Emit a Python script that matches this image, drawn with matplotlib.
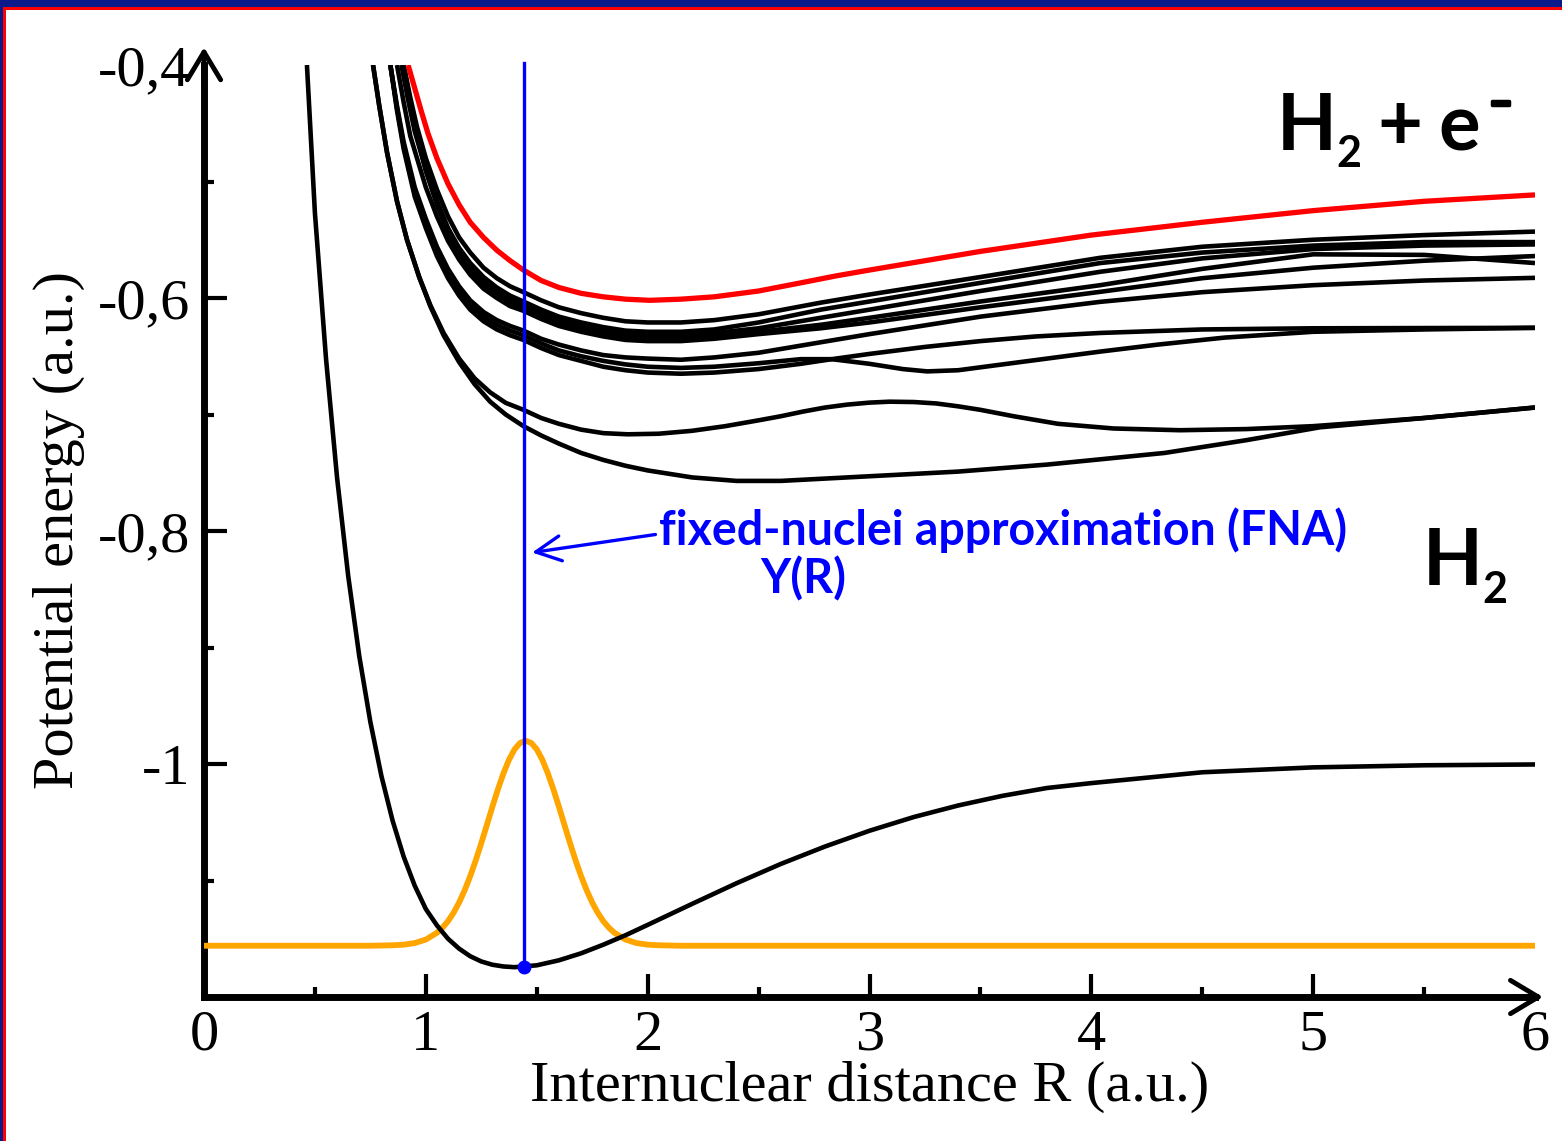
import numpy as np
import matplotlib
matplotlib.use("Agg")
import matplotlib.pyplot as plt
import matplotlib.patheffects as pe
from matplotlib.patches import Rectangle

# ---------------- data ----------------
x_ticks = [0, 1, 2, 3, 4, 5, 6]
x_ticklabels = ["0", "1", "2", "3", "4", "5", "6"]
y_ticks = [-0.4, -0.6, -0.8, -1.0]
y_ticklabels = ["-0,4", "-0,6", "-0,8", "-1"]

# ground state H2
g_R = [0.464, 0.50, 0.55, 0.60, 0.65, 0.70, 0.75, 0.80, 0.85, 0.90, 0.95, 1.00, 1.05, 1.10,
       1.15, 1.20, 1.25, 1.30, 1.35, 1.40, 1.50, 1.60, 1.70, 1.80, 1.90, 2.00, 2.20, 2.40,
       2.60, 2.80, 3.00, 3.20, 3.40, 3.60, 3.80, 4.00, 4.50, 5.00, 5.50, 6.00]
g_E = [-0.400, -0.527, -0.652, -0.7545, -0.8385, -0.9075, -0.964, -1.0105, -1.0485, -1.0795,
       -1.1045, -1.1245, -1.1385, -1.150, -1.1585, -1.165, -1.1695, -1.1723, -1.1738, -1.1744,
       -1.1728, -1.1685, -1.1625, -1.1551, -1.147, -1.1381, -1.1201, -1.1024, -1.0858, -1.0708,
       -1.0573, -1.0455, -1.0356, -1.0273, -1.0206, -1.0164, -1.0071, -1.0029, -1.0011, -1.0004]

# nuclear wave function (orange)
w_R = [0.0, 0.75, 0.85, 0.90, 0.95, 1.00, 1.05, 1.075, 1.10, 1.125, 1.15, 1.175, 1.20, 1.225,
       1.25, 1.275, 1.30, 1.325, 1.35, 1.375, 1.40, 1.425, 1.45, 1.475, 1.50, 1.525, 1.55, 1.575,
       1.60, 1.625, 1.65, 1.675, 1.70, 1.725, 1.75, 1.775, 1.80, 1.825, 1.85, 1.90, 1.95, 2.00,
       2.05, 2.15, 6.0]
w_E = [-1.156, -1.156, -1.1556, -1.1551, -1.1537, -1.1507, -1.1449, -1.1405, -1.1349, -1.1277,
       -1.1189, -1.1084, -1.0963, -1.0827, -1.0679, -1.0524, -1.0367, -1.0217, -1.0080, -0.9963,
       -0.9874, -0.9819, -0.9800, -0.9819, -0.9874, -0.9963, -1.0080, -1.0217, -1.0367, -1.0524,
       -1.0679, -1.0827, -1.0963, -1.1084, -1.1189, -1.1277, -1.1349, -1.1405, -1.1449, -1.1507,
       -1.1537, -1.1551, -1.1556, -1.156, -1.156]

# H2- resonance (red)
red_R = [0.92, 0.95, 0.98, 1.01, 1.05, 1.10, 1.15, 1.20, 1.26, 1.32, 1.38, 1.44, 1.52, 1.60,
         1.70, 1.80, 1.90, 2.01, 2.15, 2.30, 2.50, 2.69, 2.85, 3.00, 3.25, 3.50, 3.75, 4.00,
         4.50, 5.00, 5.50, 6.00]
red_E = [-0.400, -0.420, -0.440, -0.459, -0.480, -0.502, -0.520, -0.535, -0.548, -0.559, -0.568,
         -0.576, -0.585, -0.591, -0.596, -0.599, -0.601, -0.602, -0.601, -0.599, -0.594, -0.587,
         -0.581, -0.576, -0.568, -0.560, -0.553, -0.546, -0.535, -0.525, -0.517, -0.5115]

# excited states of H2 (black)
grid = [1.00, 1.05, 1.10, 1.15, 1.20, 1.26, 1.32, 1.38, 1.44, 1.52, 1.60, 1.70, 1.80, 1.90,
        2.00, 2.15, 2.30, 2.50, 2.78, 3.00, 3.50, 4.04, 4.50, 5.00, 5.50, 6.00]
u1_R = [0.90, 0.93, 0.96] + grid
u1_E = [-0.400, -0.428, -0.453, -0.480, -0.507, -0.530, -0.548, -0.561, -0.574, -0.583, -0.590,
        -0.595, -0.602, -0.608, -0.613, -0.617, -0.620, -0.621, -0.621, -0.619, -0.614, -0.604,
        -0.597, -0.582, -0.5655, -0.556, -0.550, -0.546, -0.543]
u2_R = [0.89, 0.92, 0.95] + grid
u2_E = [-0.400, -0.430, -0.457, -0.490, -0.517, -0.540, -0.557, -0.570, -0.582, -0.591, -0.598,
        -0.603, -0.610, -0.616, -0.621, -0.625, -0.628, -0.629, -0.629, -0.627, -0.621, -0.610,
        -0.603, -0.587, -0.570, -0.561, -0.555, -0.552, -0.552]
u3_R = [0.895, 0.925, 0.955] + grid
u3_E = [-0.400, -0.430, -0.457, -0.489, -0.517, -0.541, -0.559, -0.573, -0.585, -0.594, -0.601,
        -0.606, -0.613, -0.619, -0.624, -0.628, -0.631, -0.632, -0.632, -0.630, -0.626, -0.617,
        -0.610, -0.594, -0.5775, -0.566, -0.558, -0.555, -0.554]
u4_R = [0.90, 0.93, 0.96] + grid
u4_E = [-0.400, -0.432, -0.460, -0.491, -0.520, -0.544, -0.562, -0.576, -0.588, -0.597, -0.604,
        -0.609, -0.616, -0.622, -0.627, -0.631, -0.634, -0.635, -0.635, -0.633, -0.629, -0.623,
        -0.617, -0.603, -0.589, -0.575, -0.5625, -0.563, -0.570]
u5_R = [0.87, 0.90, 0.93] + grid
u5_E = [-0.400, -0.432, -0.461, -0.505, -0.530, -0.551, -0.567, -0.580, -0.592, -0.600, -0.607,
        -0.611, -0.618, -0.624, -0.629, -0.633, -0.636, -0.637, -0.637, -0.635, -0.631, -0.626,
        -0.621, -0.608, -0.5947, -0.583, -0.574, -0.568, -0.564]
u6_R = [0.84, 0.87, 0.90, 0.95] + grid
u6_E = [-0.400, -0.435, -0.466, -0.505, -0.532, -0.556, -0.575, -0.590, -0.602, -0.612, -0.619,
        -0.624, -0.628, -0.635, -0.640, -0.645, -0.649, -0.651, -0.652, -0.653, -0.651, -0.647,
        -0.638, -0.631, -0.616, -0.6033, -0.595, -0.589, -0.585, -0.5827]
ca_R = [0.84, 0.87, 0.90, 0.95, 1.00, 1.05, 1.10, 1.15, 1.20, 1.26, 1.32, 1.38, 1.44, 1.52,
        1.60, 1.70, 1.80, 1.90, 2.00, 2.15, 2.30, 2.50, 2.69, 2.83, 3.00, 3.15, 3.26, 3.40,
        3.60, 3.80, 4.04, 4.30, 4.60, 5.00, 5.50, 6.00]
ca_E = [-0.400, -0.437, -0.469, -0.509, -0.536, -0.560, -0.579, -0.594, -0.606, -0.616, -0.623,
        -0.628, -0.632, -0.639, -0.645, -0.650, -0.654, -0.657, -0.659, -0.660, -0.659, -0.656,
        -0.6525, -0.6525, -0.6565, -0.661, -0.663, -0.662, -0.657, -0.652, -0.646, -0.640,
        -0.634, -0.629, -0.627, -0.6256]
cb_R = [0.84, 0.87, 0.90, 0.95, 1.00, 1.05, 1.10, 1.15, 1.20, 1.26, 1.32, 1.38, 1.44, 1.52,
        1.60, 1.70, 1.80, 1.90, 2.00, 2.15, 2.30, 2.50, 2.69, 2.83, 3.00, 3.25, 3.50, 3.75,
        4.04, 4.50, 5.00, 6.00]
cb_E = [-0.400, -0.439, -0.472, -0.513, -0.540, -0.564, -0.583, -0.598, -0.610, -0.620, -0.627,
        -0.632, -0.636, -0.643, -0.649, -0.654, -0.659, -0.662, -0.664, -0.665, -0.664, -0.661,
        -0.6565, -0.6525, -0.648, -0.642, -0.637, -0.633, -0.630, -0.627, -0.626, -0.6256]
b_R = [0.762, 0.79, 0.825, 0.87, 0.915, 0.97, 1.02, 1.08, 1.15, 1.22, 1.29, 1.36, 1.44, 1.52,
       1.60, 1.70, 1.80, 1.91, 2.05, 2.20, 2.35, 2.50, 2.60, 2.70, 2.80, 2.90, 3.00, 3.09, 3.20,
       3.30, 3.40, 3.50, 3.65, 3.85, 4.10, 4.40, 4.70, 5.00, 5.50, 6.00]
b_E = [-0.400, -0.435, -0.475, -0.517, -0.550, -0.582, -0.606, -0.630, -0.652, -0.669, -0.681,
       -0.690, -0.696, -0.703, -0.708, -0.713, -0.716, -0.717, -0.7165, -0.714, -0.710, -0.705,
       -0.7015, -0.6975, -0.694, -0.6915, -0.6898, -0.689, -0.6893, -0.6905, -0.693, -0.696,
       -0.7015, -0.708, -0.712, -0.7135, -0.7125, -0.710, -0.703, -0.694]
a_R = [0.762, 0.79, 0.825, 0.87, 0.915, 0.97, 1.02, 1.08, 1.15, 1.22, 1.29, 1.36, 1.44, 1.52,
       1.60, 1.70, 1.80, 1.90, 2.00, 2.20, 2.40, 2.60, 2.80, 3.10, 3.40, 3.80, 4.33, 4.70, 5.03,
       5.50, 6.00]
a_E = [-0.400, -0.435, -0.475, -0.517, -0.550, -0.582, -0.607, -0.632, -0.655, -0.674, -0.689,
       -0.700, -0.710, -0.718, -0.725, -0.733, -0.739, -0.744, -0.748, -0.754, -0.757, -0.757,
       -0.755, -0.752, -0.749, -0.743, -0.733, -0.722, -0.711, -0.703, -0.694]

black_curves = [(u1_R, u1_E), (u2_R, u2_E), (u3_R, u3_E), (u4_R, u4_E), (u5_R, u5_E),
                (u6_R, u6_E), (ca_R, ca_E), (cb_R, cb_E), (b_R, b_E), (a_R, a_E)]

R_fna = 1.443          # fixed-nuclei geometry
E_fna = -1.1740
E_top = -0.398

# ---------------- figure ----------------
W, H = 1562, 1141
fig = plt.figure(figsize=(W / 100, H / 100), dpi=100)
fig.patch.set_facecolor("white")

# slide border
navy = "#0b1a8a"
fig.patches.append(Rectangle((0, 1 - 7.5 / H), 1, 7.5 / H, transform=fig.transFigure,
                             facecolor=navy, edgecolor="none", zorder=10))
fig.patches.append(Rectangle((3 / W, 1 - 10 / H), 1, 2.5 / H, transform=fig.transFigure,
                             facecolor="red", edgecolor="none", zorder=10))
fig.patches.append(Rectangle((0, 0), 3.3 / W, 1, transform=fig.transFigure,
                             facecolor=navy, edgecolor="none", zorder=10))
fig.patches.append(Rectangle((3.3 / W, 0), 2.5 / W, 1 - 7.5 / H, transform=fig.transFigure,
                             facecolor="red", edgecolor="none", zorder=10))

x0, x1 = 204, 1535
y0, y1 = 65, 997
ax = fig.add_axes([x0 / W, 1 - y1 / H, (x1 - x0) / W, (y1 - y0) / H])
ax.set_xlim(0, 6)
ax.set_ylim(-1.2, -0.4)

for s in ["top", "right"]:
    ax.spines[s].set_visible(False)
for s in ["left", "bottom"]:
    ax.spines[s].set_linewidth(5)
    ax.spines[s].set_capstyle("projecting")

serif = "Liberation Serif"
ax.set_xticks(x_ticks)
ax.set_xticklabels(x_ticklabels, fontfamily=serif, fontsize=42)
ax.set_xticks([0.5, 1.5, 2.5, 3.5, 4.5, 5.5], minor=True)
ax.set_yticks(y_ticks)
ax.set_yticklabels(y_ticklabels, fontfamily=serif, fontsize=42)
ax.set_yticks([-0.5, -0.7, -0.9, -1.1], minor=True)
ax.tick_params(which="major", direction="in", length=16.5, width=3, pad=9)
ax.tick_params(which="minor", direction="in", length=7, width=3)
ax.tick_params(axis="y", which="major", pad=10)
# no tick marks under the arrow heads / at the origin
for t in (ax.xaxis.get_major_ticks()[0], ax.xaxis.get_major_ticks()[-1],
          ax.yaxis.get_major_ticks()[0]):
    t.tick1line.set_visible(False)

# axis arrows
ax.annotate("", xy=(1.006, 0), xytext=(0.98, 0), xycoords="axes fraction",
            arrowprops=dict(arrowstyle="->,head_length=2.0,head_width=1.2", lw=3.5, color="black",
                            shrinkA=0, shrinkB=0), annotation_clip=False)
ax.annotate("", xy=(0, 1.019), xytext=(0, 0.98), xycoords="axes fraction",
            arrowprops=dict(arrowstyle="->,head_length=2.0,head_width=1.2", lw=3.5, color="black",
                            shrinkA=0, shrinkB=0), annotation_clip=False)

# curves
kw = dict(solid_joinstyle="round", solid_capstyle="butt")
ax.plot(w_R, w_E, color="#ffa500", lw=4.2, zorder=3, **kw)
ax.plot(g_R, g_E, color="black", lw=3.3, zorder=4, **kw)
for r, e in black_curves:
    ax.plot(r, e, color="black", lw=3.3, zorder=4, **kw)
ax.plot(red_R, red_E, color="red", lw=3.8, zorder=5, **kw)

ax.plot([R_fna, R_fna], [E_fna, E_top], color="blue", lw=2.4, zorder=6, clip_on=False)
ax.plot([R_fna], [E_fna], "o", color="blue", ms=9, zorder=7)

# annotations
ax.annotate("", xy=(1.479, -0.8185), xytext=(2.035, -0.803),
            arrowprops=dict(arrowstyle="->,head_length=0.9,head_width=0.45", lw=2.4, color="blue",
                            shrinkA=0, shrinkB=0, mutation_scale=20))
sans = "Lato"
ax.text(2.052, -0.7995, "fixed-nuclei approximation (FNA)", color="blue", fontfamily=sans,
        fontweight="bold", fontsize=33.5, ha="left", va="center")
ax.text(2.70, -0.841, "Y(R)", color="blue", fontfamily=sans, fontweight="bold", fontsize=33.5,
        ha="center", va="center")

big = dict(fontfamily=sans, fontweight="bold", ha="left", va="baseline")
# H2 + e-
ax.text(4.835, -0.473, "H", fontsize=56, **big)
ax.text(5.105, -0.4876, "2", fontsize=31, **big)
ax.text(5.29, -0.473, "+", fontsize=56, **big)
ax.text(5.565, -0.473, "e", fontsize=56, **big)
ax.text(5.843, -0.4437, "\u2212", fontsize=28, fontfamily=sans, fontweight="bold",
        ha="center", va="baseline",
        path_effects=[pe.withStroke(linewidth=2.5, foreground="black")])
# H2
ax.text(5.496, -0.846, "H", fontsize=56, **big)
ax.text(5.762, -0.8614, "2", fontsize=31, **big)

fig.text(870 / W, 1 - 1087 / H, "Internuclear distance R (a.u.)", fontfamily=serif, fontsize=42,
         ha="center", va="center")
fig.text(59 / W, 1 - 530 / H, "Potential energy (a.u.)", fontfamily=serif, fontsize=42,
         ha="center", va="center", rotation=90)

fig.savefig("out.png", dpi=100)
